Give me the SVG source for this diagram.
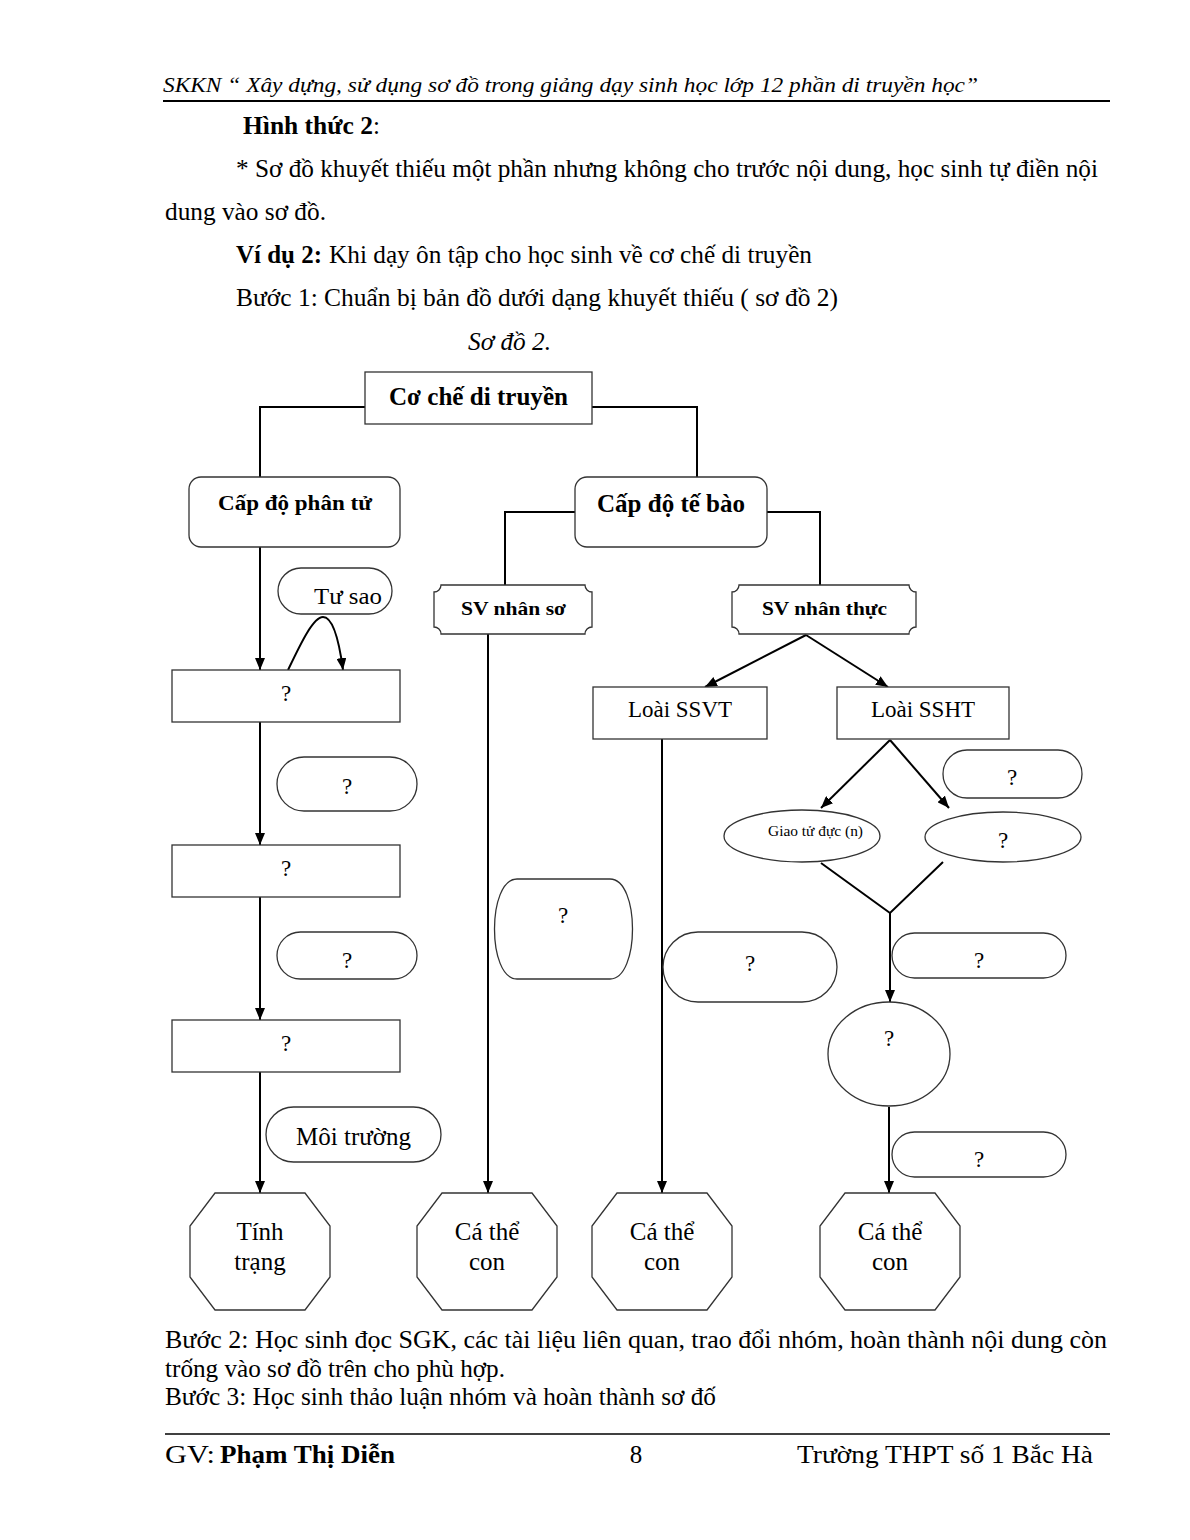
<svg xmlns="http://www.w3.org/2000/svg" width="1190" height="1540" viewBox="0 0 1190 1540">
<style>
text{font-family:"Liberation Serif","Times New Roman",serif;fill:#000}
.body{font-size:25px}
.it{font-style:italic}
.b{font-weight:bold}
.box{fill:#fff;stroke:#333;stroke-width:1.3}
.con{fill:none;stroke:#000;stroke-width:2}
.q{font-size:23px;text-anchor:middle}
.lbl{text-anchor:middle}
</style>
<defs>
<marker id="ah" markerUnits="userSpaceOnUse" markerWidth="12" markerHeight="10" refX="12" refY="5" orient="auto">
<path d="M0,0 L12,5 L0,10 Z" fill="#000"/>
</marker>
</defs>
<rect width="1190" height="1540" fill="#fff"/>

<!-- page text -->
<g id="page-text">
<text x="163" y="92" class="it" font-size="22" textLength="815" lengthAdjust="spacingAndGlyphs">SKKN “ Xây dựng, sử dụng sơ đồ trong giảng dạy sinh học lớp 12 phần di truyền học”</text>
<line x1="163" y1="101" x2="1110" y2="101" stroke="#000" stroke-width="2"/>
<text x="243" y="134" class="body b" textLength="130" lengthAdjust="spacingAndGlyphs">Hình thức 2</text>
<text x="373" y="134" class="body">:</text>
<text x="236" y="177" class="body" textLength="862" lengthAdjust="spacingAndGlyphs">* Sơ đồ khuyết thiếu một phần nhưng không cho trước nội dung, học sinh tự điền nội</text>
<text x="165" y="220" class="body" textLength="161" lengthAdjust="spacingAndGlyphs">dung vào sơ đồ.</text>
<text x="236" y="263" class="body b" textLength="86" lengthAdjust="spacingAndGlyphs">Ví dụ 2:</text>
<text x="329" y="263" class="body" textLength="483" lengthAdjust="spacingAndGlyphs">Khi dạy ôn tập cho học sinh về cơ chế di truyền</text>
<text x="236" y="306" class="body" textLength="602" lengthAdjust="spacingAndGlyphs">Bước 1:  Chuẩn bị bản đồ dưới dạng khuyết thiếu ( sơ đồ 2)</text>
<text x="468" y="350" class="body it" textLength="83" lengthAdjust="spacingAndGlyphs">Sơ đồ 2.</text>

<text x="165" y="1348" class="body" textLength="942" lengthAdjust="spacingAndGlyphs">Bước 2:  Học sinh đọc  SGK, các tài liệu liên quan, trao đổi nhóm,  hoàn thành nội dung còn</text>
<text x="165" y="1377" class="body" textLength="340" lengthAdjust="spacingAndGlyphs">trống vào sơ đồ trên cho phù hợp.</text>
<text x="165" y="1405" class="body" textLength="551" lengthAdjust="spacingAndGlyphs">Bước 3: Học sinh thảo luận nhóm và hoàn thành sơ đố</text>
<line x1="165" y1="1434" x2="1110" y2="1434" stroke="#000" stroke-width="1.5"/>
<text x="165" y="1463" class="body" textLength="50" lengthAdjust="spacingAndGlyphs">GV:</text>
<text x="220" y="1463" class="body b" textLength="175" lengthAdjust="spacingAndGlyphs">Phạm Thị Diễn</text>
<text x="636" y="1463" class="body" text-anchor="middle">8</text>
<text x="797" y="1463" class="body" textLength="296" lengthAdjust="spacingAndGlyphs">Trường THPT số 1 Bắc Hà</text>
</g>

<!-- connectors -->
<g id="connectors">
<path class="con" d="M365,407 H260 V477"/>
<path class="con" d="M592,407 H697 V477"/>
<path class="con" d="M575,512 H505 V585"/>
<path class="con" d="M767,512 H820 V585"/>
<path class="con" d="M260,547 V670" marker-end="url(#ah)"/>
<path class="con" stroke-width="1.6" d="M288,670 C300,645 313,617 323,617 C333,617 339,640 343,670" marker-end="url(#ah)"/>
<path class="con" d="M260,722 V845" marker-end="url(#ah)"/>
<path class="con" d="M260,897 V1020" marker-end="url(#ah)"/>
<path class="con" d="M260,1072 V1193" marker-end="url(#ah)"/>
<path class="con" d="M488,634 V1193" marker-end="url(#ah)"/>
<path class="con" d="M806,635 L705,687" marker-end="url(#ah)"/>
<path class="con" d="M806,635 L888,687" marker-end="url(#ah)"/>
<path class="con" d="M662,739 V1193" marker-end="url(#ah)"/>
<path class="con" d="M890,740 L821,808" marker-end="url(#ah)"/>
<path class="con" d="M890,740 L949,808" marker-end="url(#ah)"/>
<path class="con" d="M821,863 L890,913 L943,862"/>
<path class="con" d="M890,913 V1002" marker-end="url(#ah)"/>
<path class="con" d="M889,1107 V1193" marker-end="url(#ah)"/>
</g>

<!-- nodes -->
<g id="n-cochedt">
<rect class="box" x="365" y="372" width="227" height="52"/>
<text x="389" y="405" class="b" font-size="25" textLength="179" lengthAdjust="spacingAndGlyphs">Cơ chế di truyền</text>
</g>
<g id="n-phantu">
<rect class="box" x="189" y="477" width="211" height="70" rx="12"/>
<text x="218" y="510" class="b" font-size="22" textLength="154" lengthAdjust="spacingAndGlyphs">Cấp độ phân tử</text>
</g>
<g id="n-tebao">
<rect class="box" x="575" y="477" width="192" height="70" rx="12"/>
<text x="597" y="512" class="b" font-size="25" textLength="148" lengthAdjust="spacingAndGlyphs">Cấp độ tế bào</text>
</g>
<g id="n-tusao">
<rect class="box" x="278" y="568" width="114" height="46" rx="23"/>
<text x="314" y="604" font-size="23" textLength="68" lengthAdjust="spacingAndGlyphs">Tư sao</text>
</g>
<g id="n-svnhanso">
<path class="box" d="M441,585 H585 A7,7 0 0 0 592,592 V627 A7,7 0 0 0 585,634 H441 A7,7 0 0 0 434,627 V592 A7,7 0 0 0 441,585 Z"/>
<text x="461" y="615" class="b" font-size="19" textLength="105" lengthAdjust="spacingAndGlyphs">SV nhân sơ</text>
</g>
<g id="n-svnhanthuc">
<path class="box" d="M739,585 H909 A7,7 0 0 0 916,592 V627 A7,7 0 0 0 909,634 H739 A7,7 0 0 0 732,627 V592 A7,7 0 0 0 739,585 Z"/>
<text x="762" y="615" class="b" font-size="19" textLength="125" lengthAdjust="spacingAndGlyphs">SV nhân thực</text>
</g>
<g id="n-q1">
<rect class="box" x="172" y="670" width="228" height="52"/>
<text x="286" y="701" class="q">?</text>
</g>
<g id="n-ssvt">
<rect class="box" x="593" y="687" width="174" height="52"/>
<text x="628" y="717" font-size="23" textLength="104" lengthAdjust="spacingAndGlyphs">Loài SSVT</text>
</g>
<g id="n-ssht">
<rect class="box" x="837" y="687" width="172" height="52"/>
<text x="871" y="717" font-size="23" textLength="104" lengthAdjust="spacingAndGlyphs">Loài SSHT</text>
</g>
<g id="n-p1">
<rect class="box" x="277" y="757" width="140" height="54" rx="27"/>
<text x="347" y="794" class="q">?</text>
</g>
<g id="n-pr1">
<rect class="box" x="943" y="750" width="139" height="48" rx="24"/>
<text x="1012" y="785" class="q">?</text>
</g>
<g id="n-giaotu">
<ellipse class="box" cx="802" cy="836" rx="78" ry="26"/>
<text x="768" y="836" font-size="14" textLength="95" lengthAdjust="spacingAndGlyphs">Giao tử đực (n)</text>
</g>
<g id="n-e2">
<ellipse class="box" cx="1003" cy="837" rx="78" ry="25"/>
<text x="1003" y="848" class="q">?</text>
</g>
<g id="n-q2">
<rect class="box" x="172" y="845" width="228" height="52"/>
<text x="286" y="876" class="q">?</text>
</g>
<g id="n-mid1">
<path class="box" d="M517,879 H610 C640,879 640,979 610,979 H517 C487,979 487,879 517,879 Z"/>
<text x="563" y="923" class="q">?</text>
</g>
<g id="n-p2">
<rect class="box" x="277" y="932" width="140" height="47" rx="23.5"/>
<text x="347" y="968" class="q">?</text>
</g>
<g id="n-mid2">
<rect class="box" x="663" y="932" width="174" height="70" rx="35"/>
<text x="750" y="971" class="q">?</text>
</g>
<g id="n-pr2">
<rect class="box" x="892" y="933" width="174" height="45" rx="22.5"/>
<text x="979" y="968" class="q">?</text>
</g>
<g id="n-circle">
<ellipse class="box" cx="889" cy="1054" rx="61" ry="52"/>
<text x="889" y="1046" class="q">?</text>
</g>
<g id="n-q3">
<rect class="box" x="172" y="1020" width="228" height="52"/>
<text x="286" y="1051" class="q">?</text>
</g>
<g id="n-moitruong">
<rect class="box" x="266" y="1107" width="175" height="55" rx="27.5"/>
<text x="296" y="1145" font-size="25" textLength="115" lengthAdjust="spacingAndGlyphs">Môi trường</text>
</g>
<g id="n-pr3">
<rect class="box" x="892" y="1132" width="174" height="45" rx="22.5"/>
<text x="979" y="1167" class="q">?</text>
</g>
<g id="n-tinhtrang">
<polygon class="box" points="215,1193 305,1193 330,1226 330,1277 305,1310 215,1310 190,1277 190,1226"/>
<text x="260" y="1240" class="lbl" font-size="25">Tính</text>
<text x="260" y="1270" class="lbl" font-size="25">trạng</text>
</g>
<g id="n-cathe1">
<polygon class="box" points="442,1193 532,1193 557,1226 557,1277 532,1310 442,1310 417,1277 417,1226"/>
<text x="487" y="1240" class="lbl" font-size="25">Cá thể</text>
<text x="487" y="1270" class="lbl" font-size="25">con</text>
</g>
<g id="n-cathe2">
<polygon class="box" points="617,1193 707,1193 732,1226 732,1277 707,1310 617,1310 592,1277 592,1226"/>
<text x="662" y="1240" class="lbl" font-size="25">Cá thể</text>
<text x="662" y="1270" class="lbl" font-size="25">con</text>
</g>
<g id="n-cathe3">
<polygon class="box" points="845,1193 935,1193 960,1226 960,1277 935,1310 845,1310 820,1277 820,1226"/>
<text x="890" y="1240" class="lbl" font-size="25">Cá thể</text>
<text x="890" y="1270" class="lbl" font-size="25">con</text>
</g>
</svg>
